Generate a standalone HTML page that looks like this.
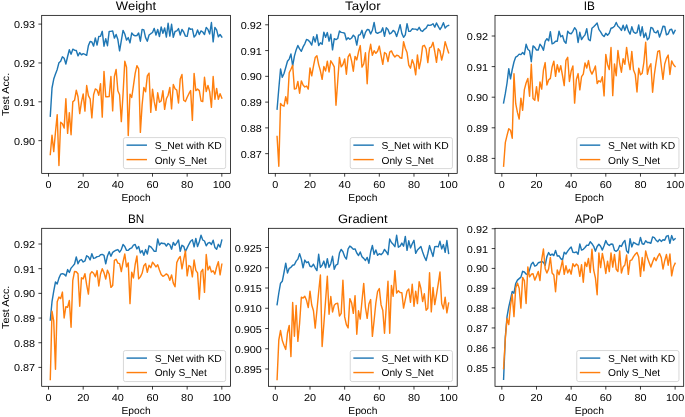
<!DOCTYPE html><html><head><meta charset="utf-8"><style>html,body{margin:0;padding:0;background:#fff;overflow:hidden}svg{display:block;will-change:transform;opacity:.999}text{font-family:"Liberation Sans",sans-serif;fill:#000;text-rendering:geometricPrecision}</style></head><body>
<svg width="685" height="417" viewBox="0 0 685 417">
<rect width="685" height="417" fill="#fff"/>
<clipPath id="c00"><rect x="41.7" y="15.35" width="188.7" height="158.0"/></clipPath>
<polyline clip-path="url(#c00)" points="50.28,116.20 52.01,88.00 53.74,79.10 55.48,74.00 57.21,69.40 58.94,62.80 60.67,61.20 62.41,56.80 64.14,58.30 65.87,64.00 67.61,56.50 69.34,49.80 71.07,54.20 72.80,49.20 74.54,50.20 76.27,50.50 78.00,55.80 79.73,52.70 81.47,54.80 83.20,53.60 84.93,54.30 86.67,55.30 88.40,45.60 90.13,41.50 91.86,42.00 93.60,46.10 95.33,37.90 97.06,45.10 98.80,36.40 100.53,36.20 102.26,31.30 103.99,46.20 105.73,38.70 107.46,45.70 109.19,31.40 110.92,31.40 112.66,30.90 114.39,38.10 116.12,34.50 117.86,39.60 119.59,50.90 121.32,40.70 123.05,30.40 124.79,34.00 126.52,40.10 128.25,37.60 129.99,42.90 131.72,33.00 133.45,35.00 135.18,35.80 136.92,35.50 138.65,33.00 140.38,41.20 142.11,29.40 143.85,29.90 145.58,37.60 147.31,41.20 149.05,35.00 150.78,33.70 152.51,32.50 154.24,28.40 155.98,35.00 157.71,29.40 159.44,36.60 161.18,26.90 162.91,33.30 164.64,27.90 166.37,37.10 168.11,23.30 169.84,36.10 171.57,24.30 173.30,37.30 175.04,31.50 176.77,30.90 178.50,28.60 180.24,35.00 181.97,29.40 183.70,32.00 185.43,36.10 187.17,36.40 188.90,27.90 190.63,29.40 192.37,28.90 194.10,37.10 195.83,35.00 197.56,29.90 199.30,34.50 201.03,30.90 202.76,32.00 204.49,34.50 206.23,27.40 207.96,29.40 209.69,34.00 211.43,22.50 213.16,41.90 214.89,27.40 216.62,29.90 218.36,36.80 220.09,34.50 221.82,37.10" fill="none" stroke="#1f77b4" stroke-width="1.43" stroke-linejoin="round" stroke-linecap="square"/>
<polyline clip-path="url(#c00)" points="50.28,154.50 52.01,135.10 53.74,151.60 55.48,132.00 57.21,114.60 58.94,165.50 60.67,122.20 62.41,123.80 64.14,128.10 65.87,98.80 67.61,133.40 69.34,112.60 71.07,134.80 72.80,101.90 74.54,100.30 76.27,90.30 78.00,96.80 79.73,113.60 81.47,101.90 83.20,94.00 84.93,111.10 86.67,85.50 88.40,95.70 90.13,98.80 91.86,117.90 93.60,94.70 95.33,88.90 97.06,90.00 98.80,95.20 100.53,83.60 102.26,117.10 103.99,71.40 105.73,96.80 107.46,96.80 109.19,96.60 110.92,76.50 112.66,110.90 114.39,76.50 116.12,69.50 117.86,90.80 119.59,94.70 121.32,121.60 123.05,94.00 124.79,61.30 126.52,67.30 128.25,135.50 129.99,94.20 131.72,97.50 133.45,85.70 135.18,73.40 136.92,65.70 138.65,68.80 140.38,132.40 142.11,105.00 143.85,87.50 145.58,91.80 147.31,75.90 149.05,73.20 150.78,112.40 152.51,89.20 154.24,101.70 155.98,110.40 157.71,92.80 159.44,102.20 161.18,100.90 162.91,90.70 164.64,109.40 166.37,98.80 168.11,95.20 169.84,87.50 171.57,108.90 173.30,84.50 175.04,88.80 176.77,90.10 178.50,103.00 180.24,78.90 181.97,74.50 183.70,100.20 185.43,101.50 187.17,97.30 188.90,93.70 190.63,90.60 192.37,120.40 194.10,73.40 195.83,90.60 197.56,89.10 199.30,90.60 201.03,101.00 202.76,101.50 204.49,77.30 206.23,91.60 207.96,85.50 209.69,91.60 211.43,107.30 213.16,76.50 214.89,99.30 216.62,88.40 218.36,99.30 220.09,93.70 221.82,98.00" fill="none" stroke="#ff7f0e" stroke-width="1.43" stroke-linejoin="round" stroke-linecap="square"/>
<path d="M48.54 173.35v3.3M83.20 173.35v3.3M117.86 173.35v3.3M152.51 173.35v3.3M187.17 173.35v3.3M221.82 173.35v3.3M41.70 24.10h-3.3M41.70 62.95h-3.3M41.70 101.80h-3.3M41.70 140.65h-3.3" stroke="#000" stroke-width="0.76" fill="none"/>
<text x="45.52" y="187.85" font-size="10.07" textLength="6.04" lengthAdjust="spacingAndGlyphs">0</text>
<text x="77.16" y="187.85" font-size="10.07" textLength="12.08" lengthAdjust="spacingAndGlyphs">20</text>
<text x="111.81" y="187.85" font-size="10.07" textLength="12.08" lengthAdjust="spacingAndGlyphs">40</text>
<text x="146.47" y="187.85" font-size="10.07" textLength="12.08" lengthAdjust="spacingAndGlyphs">60</text>
<text x="181.13" y="187.85" font-size="10.07" textLength="12.08" lengthAdjust="spacingAndGlyphs">80</text>
<text x="212.76" y="187.85" font-size="10.07" textLength="18.13" lengthAdjust="spacingAndGlyphs">100</text>
<text x="13.95" y="28.15" font-size="10.07" textLength="21.15" lengthAdjust="spacingAndGlyphs">0.93</text>
<text x="13.95" y="67.00" font-size="10.07" textLength="21.15" lengthAdjust="spacingAndGlyphs">0.92</text>
<text x="13.95" y="105.85" font-size="10.07" textLength="21.15" lengthAdjust="spacingAndGlyphs">0.91</text>
<text x="13.95" y="144.70" font-size="10.07" textLength="21.15" lengthAdjust="spacingAndGlyphs">0.90</text>
<rect x="41.7" y="15.35" width="188.7" height="158.0" fill="none" stroke="#000" stroke-width="0.76"/>
<text x="115.85" y="9.70" font-size="12.31" textLength="40.39" lengthAdjust="spacingAndGlyphs">Weight</text>
<text x="121.50" y="200.65" font-size="10.07" textLength="29.10" lengthAdjust="spacingAndGlyphs">Epoch</text>
<text x="8.70" y="116.01" font-size="10.07" textLength="43.31" lengthAdjust="spacingAndGlyphs" transform="rotate(-90 8.7 116.01)">Test Acc.</text>
<rect x="123.45" y="137.60" width="102.20" height="31.00" rx="1.9" ry="1.9" fill="#fff" fill-opacity="0.8" stroke="#ccc" stroke-opacity="0.8" stroke-width="0.95"/>
<path d="M127.25 145.15h19" stroke="#1f77b4" stroke-width="1.43" stroke-linecap="square"/>
<path d="M127.25 159.60h19" stroke="#ff7f0e" stroke-width="1.43" stroke-linecap="square"/>
<text x="154.65" y="149.00" font-size="10.07" textLength="67.20" lengthAdjust="spacingAndGlyphs">S_Net with KD</text>
<text x="154.65" y="163.50" font-size="10.07" textLength="52.24" lengthAdjust="spacingAndGlyphs">Only S_Net</text>
<clipPath id="c10"><rect x="268.5" y="15.35" width="188.7" height="158.0"/></clipPath>
<polyline clip-path="url(#c10)" points="277.08,109.20 278.81,88.50 280.54,69.00 282.28,77.30 284.01,73.50 285.74,67.50 287.47,61.30 289.21,59.10 290.94,54.00 292.67,65.80 294.41,56.10 296.14,49.90 297.87,45.50 299.60,48.90 301.34,51.30 303.07,46.90 304.80,43.80 306.53,39.40 308.27,40.20 310.00,42.10 311.73,45.10 313.47,36.60 315.20,42.10 316.93,34.60 318.66,45.50 320.40,42.80 322.13,44.30 323.86,32.20 325.60,37.20 327.33,32.60 329.06,41.20 330.79,34.30 332.53,49.80 334.26,38.70 335.99,39.60 337.72,38.50 339.46,31.10 341.19,32.40 342.92,32.60 344.66,33.20 346.39,39.70 348.12,37.70 349.85,39.30 351.59,38.00 353.32,35.20 355.05,37.00 356.79,45.10 358.52,35.20 360.25,34.60 361.98,30.30 363.72,38.00 365.45,32.40 367.18,29.50 368.91,29.80 370.65,33.90 372.38,30.30 374.11,22.40 375.85,32.40 377.58,33.40 379.31,32.40 381.04,31.90 382.78,27.80 384.51,36.30 386.24,27.80 387.98,29.50 389.71,33.90 391.44,32.90 393.17,30.40 394.91,31.90 396.64,36.50 398.37,30.90 400.10,24.70 401.84,33.40 403.57,37.30 405.30,34.90 407.04,23.70 408.77,31.40 410.50,31.20 412.23,28.80 413.97,29.10 415.70,29.10 417.43,30.10 419.17,27.30 420.90,30.60 422.63,31.40 424.36,29.30 426.10,28.10 427.83,25.00 429.56,25.40 431.29,25.00 433.03,23.70 434.76,27.10 436.49,23.00 438.23,26.30 439.96,29.50 441.69,26.80 443.42,22.70 445.16,28.10 446.89,26.10 448.62,25.40" fill="none" stroke="#1f77b4" stroke-width="1.43" stroke-linejoin="round" stroke-linecap="square"/>
<polyline clip-path="url(#c10)" points="277.08,136.50 278.81,166.20 280.54,103.50 282.28,105.40 284.01,106.20 285.74,96.70 287.47,103.80 289.21,72.70 290.94,69.20 292.67,65.30 294.41,89.10 296.14,88.60 297.87,81.40 299.60,93.20 301.34,80.90 303.07,85.00 304.80,87.00 306.53,86.00 308.27,89.10 310.00,67.90 311.73,75.80 313.47,66.10 315.20,57.60 316.93,55.80 318.66,64.60 320.40,70.80 322.13,79.40 323.86,66.50 325.60,71.00 327.33,61.20 329.06,72.00 330.79,60.80 332.53,63.60 334.26,66.90 335.99,105.30 337.72,81.30 339.46,57.40 341.19,66.80 342.92,64.50 344.66,58.90 346.39,74.20 348.12,56.90 349.85,53.80 351.59,60.90 353.32,71.20 355.05,56.40 356.79,59.90 358.52,51.80 360.25,45.60 361.98,67.10 363.72,64.00 365.45,52.80 367.18,83.80 368.91,53.30 370.65,44.30 372.38,55.30 374.11,50.70 375.85,53.30 377.58,51.20 379.31,46.10 381.04,55.30 382.78,64.30 384.51,52.50 386.24,53.80 387.98,61.50 389.71,52.10 391.44,50.90 393.17,54.80 394.91,57.00 396.64,55.30 398.37,55.60 400.10,57.70 401.84,58.30 403.57,41.60 405.30,48.30 407.04,52.50 408.77,65.10 410.50,68.20 412.23,59.70 413.97,64.60 415.70,74.80 417.43,54.90 419.17,68.70 420.90,60.00 422.63,46.20 424.36,45.30 426.10,49.00 427.83,62.60 429.56,47.80 431.29,46.90 433.03,42.30 434.76,51.50 436.49,62.40 438.23,48.80 439.96,51.00 441.69,60.00 443.42,52.90 445.16,41.60 446.89,47.40 448.62,52.90" fill="none" stroke="#ff7f0e" stroke-width="1.43" stroke-linejoin="round" stroke-linecap="square"/>
<path d="M275.34 173.35v3.3M310.00 173.35v3.3M344.66 173.35v3.3M379.31 173.35v3.3M413.97 173.35v3.3M448.62 173.35v3.3M268.50 24.80h-3.3M268.50 50.57h-3.3M268.50 76.34h-3.3M268.50 102.11h-3.3M268.50 127.88h-3.3M268.50 153.65h-3.3" stroke="#000" stroke-width="0.76" fill="none"/>
<text x="272.32" y="187.85" font-size="10.07" textLength="6.04" lengthAdjust="spacingAndGlyphs">0</text>
<text x="303.96" y="187.85" font-size="10.07" textLength="12.08" lengthAdjust="spacingAndGlyphs">20</text>
<text x="338.61" y="187.85" font-size="10.07" textLength="12.08" lengthAdjust="spacingAndGlyphs">40</text>
<text x="373.27" y="187.85" font-size="10.07" textLength="12.08" lengthAdjust="spacingAndGlyphs">60</text>
<text x="407.93" y="187.85" font-size="10.07" textLength="12.08" lengthAdjust="spacingAndGlyphs">80</text>
<text x="439.56" y="187.85" font-size="10.07" textLength="18.13" lengthAdjust="spacingAndGlyphs">100</text>
<text x="240.75" y="28.85" font-size="10.07" textLength="21.15" lengthAdjust="spacingAndGlyphs">0.92</text>
<text x="240.75" y="54.62" font-size="10.07" textLength="21.15" lengthAdjust="spacingAndGlyphs">0.91</text>
<text x="240.75" y="80.39" font-size="10.07" textLength="21.15" lengthAdjust="spacingAndGlyphs">0.90</text>
<text x="240.75" y="106.16" font-size="10.07" textLength="21.15" lengthAdjust="spacingAndGlyphs">0.89</text>
<text x="240.75" y="131.93" font-size="10.07" textLength="21.15" lengthAdjust="spacingAndGlyphs">0.88</text>
<text x="240.75" y="157.70" font-size="10.07" textLength="21.15" lengthAdjust="spacingAndGlyphs">0.87</text>
<rect x="268.5" y="15.35" width="188.7" height="158.0" fill="none" stroke="#000" stroke-width="0.76"/>
<text x="345.08" y="9.70" font-size="12.31" textLength="35.53" lengthAdjust="spacingAndGlyphs">Taylor</text>
<text x="348.30" y="200.65" font-size="10.07" textLength="29.10" lengthAdjust="spacingAndGlyphs">Epoch</text>
<rect x="350.25" y="137.60" width="102.20" height="31.00" rx="1.9" ry="1.9" fill="#fff" fill-opacity="0.8" stroke="#ccc" stroke-opacity="0.8" stroke-width="0.95"/>
<path d="M354.05 145.15h19" stroke="#1f77b4" stroke-width="1.43" stroke-linecap="square"/>
<path d="M354.05 159.60h19" stroke="#ff7f0e" stroke-width="1.43" stroke-linecap="square"/>
<text x="381.45" y="149.00" font-size="10.07" textLength="67.20" lengthAdjust="spacingAndGlyphs">S_Net with KD</text>
<text x="381.45" y="163.50" font-size="10.07" textLength="52.24" lengthAdjust="spacingAndGlyphs">Only S_Net</text>
<clipPath id="c20"><rect x="495.0" y="15.35" width="188.7" height="158.0"/></clipPath>
<polyline clip-path="url(#c20)" points="503.58,102.90 505.31,93.70 507.04,83.00 508.78,68.60 510.51,78.90 512.24,69.50 513.97,62.00 515.71,57.10 517.44,56.10 519.17,54.10 520.91,54.60 522.64,52.50 524.37,54.40 526.10,44.30 527.84,49.30 529.57,50.70 531.30,61.70 533.03,45.90 534.77,47.40 536.50,50.00 538.23,50.00 539.97,44.30 541.70,46.40 543.43,50.30 545.16,41.30 546.90,38.70 548.63,40.80 550.36,31.60 552.10,43.80 553.83,43.10 555.56,41.20 557.29,41.20 559.03,31.20 560.76,36.80 562.49,35.50 564.22,41.30 565.96,43.30 567.69,31.30 569.42,33.30 571.16,33.80 572.89,31.30 574.62,27.70 576.35,30.10 578.09,42.50 579.82,32.30 581.55,39.50 583.29,36.90 585.02,34.90 586.75,28.70 588.48,39.50 590.22,40.70 591.95,28.20 593.68,26.70 595.41,24.90 597.15,23.10 598.88,29.40 600.61,31.80 602.35,34.90 604.08,36.60 605.81,33.30 607.54,35.20 609.28,33.30 611.01,28.20 612.74,27.70 614.48,26.20 616.21,22.50 617.94,26.30 619.67,27.80 621.41,30.40 623.14,25.30 624.87,30.40 626.60,25.00 628.34,30.90 630.07,34.20 631.80,26.80 633.54,31.90 635.27,33.20 637.00,32.60 638.73,25.00 640.47,35.70 642.20,26.80 643.93,37.50 645.67,32.90 647.40,39.80 649.13,37.70 650.86,27.50 652.60,28.10 654.33,32.20 656.06,32.90 657.79,30.60 659.53,37.00 661.26,32.20 662.99,26.30 664.73,26.50 666.46,34.90 668.19,33.90 669.92,29.80 671.66,29.30 673.39,33.90 675.12,30.40" fill="none" stroke="#1f77b4" stroke-width="1.43" stroke-linejoin="round" stroke-linecap="square"/>
<polyline clip-path="url(#c20)" points="503.58,166.20 505.31,142.70 507.04,135.40 508.78,128.70 510.51,130.20 512.24,138.20 513.97,73.80 515.71,103.70 517.44,112.40 519.17,119.00 520.91,98.10 522.64,110.30 524.37,89.60 526.10,83.00 527.84,78.40 529.57,96.30 531.30,64.30 533.03,98.50 534.77,100.30 536.50,86.60 538.23,101.00 539.97,82.00 541.70,89.10 543.43,70.20 545.16,62.60 546.90,85.00 548.63,79.90 550.36,78.40 552.10,66.90 553.83,61.20 555.56,76.30 557.29,64.70 559.03,72.00 560.76,65.80 562.49,75.50 564.22,85.60 565.96,60.30 567.69,57.30 569.42,81.50 571.16,71.10 572.89,66.00 574.62,103.10 576.35,79.50 578.09,73.60 579.82,89.80 581.55,76.70 583.29,74.10 585.02,62.90 586.75,68.00 588.48,60.60 590.22,70.40 591.95,74.10 593.68,70.40 595.41,66.00 597.15,83.50 598.88,80.70 600.61,82.00 602.35,76.70 604.08,95.90 605.81,54.40 607.54,64.40 609.28,69.50 611.01,47.50 612.74,95.60 614.48,63.90 616.21,75.70 617.94,50.50 619.67,63.50 621.41,72.20 623.14,58.70 624.87,64.30 626.60,47.40 628.34,60.40 630.07,69.60 631.80,51.40 633.54,70.10 635.27,74.40 637.00,92.00 638.73,68.10 640.47,74.70 642.20,73.20 643.93,62.00 645.67,42.30 647.40,74.20 649.13,67.40 650.86,63.70 652.60,92.30 654.33,74.70 656.06,62.50 657.79,51.40 659.53,50.70 661.26,65.50 662.99,79.30 664.73,64.00 666.46,58.40 668.19,55.10 669.92,74.50 671.66,60.90 673.39,64.50 675.12,66.60" fill="none" stroke="#ff7f0e" stroke-width="1.43" stroke-linejoin="round" stroke-linecap="square"/>
<path d="M501.84 173.35v3.3M536.50 173.35v3.3M571.16 173.35v3.3M605.81 173.35v3.3M640.47 173.35v3.3M675.12 173.35v3.3M495.00 36.00h-3.3M495.00 66.60h-3.3M495.00 97.20h-3.3M495.00 127.80h-3.3M495.00 158.40h-3.3" stroke="#000" stroke-width="0.76" fill="none"/>
<text x="498.82" y="187.85" font-size="10.07" textLength="6.04" lengthAdjust="spacingAndGlyphs">0</text>
<text x="530.46" y="187.85" font-size="10.07" textLength="12.08" lengthAdjust="spacingAndGlyphs">20</text>
<text x="565.11" y="187.85" font-size="10.07" textLength="12.08" lengthAdjust="spacingAndGlyphs">40</text>
<text x="599.77" y="187.85" font-size="10.07" textLength="12.08" lengthAdjust="spacingAndGlyphs">60</text>
<text x="634.43" y="187.85" font-size="10.07" textLength="12.08" lengthAdjust="spacingAndGlyphs">80</text>
<text x="666.06" y="187.85" font-size="10.07" textLength="18.13" lengthAdjust="spacingAndGlyphs">100</text>
<text x="466.85" y="40.05" font-size="10.07" textLength="21.15" lengthAdjust="spacingAndGlyphs">0.92</text>
<text x="466.85" y="70.65" font-size="10.07" textLength="21.15" lengthAdjust="spacingAndGlyphs">0.91</text>
<text x="466.85" y="101.25" font-size="10.07" textLength="21.15" lengthAdjust="spacingAndGlyphs">0.90</text>
<text x="466.85" y="131.85" font-size="10.07" textLength="21.15" lengthAdjust="spacingAndGlyphs">0.89</text>
<text x="466.85" y="162.45" font-size="10.07" textLength="21.15" lengthAdjust="spacingAndGlyphs">0.88</text>
<rect x="495.0" y="15.35" width="188.7" height="158.0" fill="none" stroke="#000" stroke-width="0.76"/>
<text x="583.76" y="9.70" font-size="12.31" textLength="11.18" lengthAdjust="spacingAndGlyphs">IB</text>
<text x="574.80" y="200.65" font-size="10.07" textLength="29.10" lengthAdjust="spacingAndGlyphs">Epoch</text>
<rect x="576.75" y="137.60" width="102.20" height="31.00" rx="1.9" ry="1.9" fill="#fff" fill-opacity="0.8" stroke="#ccc" stroke-opacity="0.8" stroke-width="0.95"/>
<path d="M580.55 145.15h19" stroke="#1f77b4" stroke-width="1.43" stroke-linecap="square"/>
<path d="M580.55 159.60h19" stroke="#ff7f0e" stroke-width="1.43" stroke-linecap="square"/>
<text x="607.95" y="149.00" font-size="10.07" textLength="67.20" lengthAdjust="spacingAndGlyphs">S_Net with KD</text>
<text x="607.95" y="163.50" font-size="10.07" textLength="52.24" lengthAdjust="spacingAndGlyphs">Only S_Net</text>
<clipPath id="c01"><rect x="41.7" y="228.3" width="188.7" height="158.0"/></clipPath>
<polyline clip-path="url(#c01)" points="50.28,320.00 52.01,301.70 53.74,291.10 55.48,282.00 57.21,283.90 58.94,278.10 60.67,274.20 62.41,273.60 64.14,274.20 65.87,276.00 67.61,269.60 69.34,272.50 71.07,268.10 72.80,266.10 74.54,264.00 76.27,256.90 78.00,263.70 79.73,260.40 81.47,259.60 83.20,262.00 84.93,260.90 86.67,255.80 88.40,256.90 90.13,259.90 91.86,253.80 93.60,258.40 95.33,257.90 97.06,256.60 98.80,256.40 100.53,254.80 102.26,254.40 103.99,255.30 105.73,263.80 107.46,255.90 109.19,251.70 110.92,256.30 112.66,252.40 114.39,251.20 116.12,250.20 117.86,249.60 119.59,252.20 121.32,249.60 123.05,244.50 124.79,246.50 126.52,250.40 128.25,250.20 129.99,248.60 131.72,247.80 133.45,245.10 135.18,244.50 136.92,248.90 138.65,246.50 140.38,252.90 142.11,250.60 143.85,255.30 145.58,249.60 147.31,254.00 149.05,245.80 150.78,246.80 152.51,248.90 154.24,251.20 155.98,251.40 157.71,238.90 159.44,245.10 161.18,243.00 162.91,243.50 164.64,243.50 166.37,246.10 168.11,243.50 169.84,244.80 171.57,249.20 173.30,242.50 175.04,245.30 176.77,242.80 178.50,240.00 180.24,251.30 181.97,245.30 183.70,246.30 185.43,251.50 187.17,247.90 188.90,244.30 190.63,241.20 192.37,239.70 194.10,246.90 195.83,238.40 197.56,246.60 199.30,241.80 201.03,235.30 202.76,240.00 204.49,241.00 206.23,245.80 207.96,243.10 209.69,242.50 211.43,244.50 213.16,240.20 214.89,247.40 216.62,249.20 218.36,244.30 220.09,247.20 221.82,240.00" fill="none" stroke="#1f77b4" stroke-width="1.43" stroke-linejoin="round" stroke-linecap="square"/>
<polyline clip-path="url(#c01)" points="50.28,379.50 52.01,311.30 53.74,321.00 55.48,369.30 57.21,301.80 58.94,297.10 60.67,298.60 62.41,292.10 64.14,318.00 65.87,306.70 67.61,307.20 69.34,300.50 71.07,327.20 72.80,280.30 74.54,271.50 76.27,271.70 78.00,273.70 79.73,306.20 81.47,277.80 83.20,278.80 84.93,273.70 86.67,284.90 88.40,294.10 90.13,274.20 91.86,271.70 93.60,273.20 95.33,276.80 97.06,270.60 98.80,286.00 100.53,274.00 102.26,268.70 103.99,272.60 105.73,279.10 107.46,270.20 109.19,274.30 110.92,287.40 112.66,285.60 114.39,260.40 116.12,259.30 117.86,263.10 119.59,263.60 121.32,271.60 123.05,262.00 124.79,254.00 126.52,266.90 128.25,262.90 129.99,303.60 131.72,272.30 133.45,277.90 135.18,264.50 136.92,256.00 138.65,278.90 140.38,276.90 142.11,273.30 143.85,265.70 145.58,263.60 147.31,272.40 149.05,265.30 150.78,267.70 152.51,262.20 154.24,264.30 155.98,266.90 157.71,264.80 159.44,270.00 161.18,274.50 162.91,276.30 164.64,275.30 166.37,273.90 168.11,275.40 169.84,280.30 171.57,274.90 173.30,283.10 175.04,286.80 176.77,262.60 178.50,258.80 180.24,256.50 181.97,268.80 183.70,259.60 185.43,250.90 187.17,275.90 188.90,265.50 190.63,266.50 192.37,276.90 194.10,260.00 195.83,270.30 197.56,272.90 199.30,299.20 201.03,271.80 202.76,269.30 204.49,292.40 206.23,254.50 207.96,270.00 209.69,266.20 211.43,272.00 213.16,270.80 214.89,274.20 216.62,267.00 218.36,261.80 220.09,274.90 221.82,264.20" fill="none" stroke="#ff7f0e" stroke-width="1.43" stroke-linejoin="round" stroke-linecap="square"/>
<path d="M48.54 386.30v3.3M83.20 386.30v3.3M117.86 386.30v3.3M152.51 386.30v3.3M187.17 386.30v3.3M221.82 386.30v3.3M41.70 244.00h-3.3M41.70 268.68h-3.3M41.70 293.36h-3.3M41.70 318.04h-3.3M41.70 342.72h-3.3M41.70 367.40h-3.3" stroke="#000" stroke-width="0.76" fill="none"/>
<text x="45.52" y="400.80" font-size="10.07" textLength="6.04" lengthAdjust="spacingAndGlyphs">0</text>
<text x="77.16" y="400.80" font-size="10.07" textLength="12.08" lengthAdjust="spacingAndGlyphs">20</text>
<text x="111.81" y="400.80" font-size="10.07" textLength="12.08" lengthAdjust="spacingAndGlyphs">40</text>
<text x="146.47" y="400.80" font-size="10.07" textLength="12.08" lengthAdjust="spacingAndGlyphs">60</text>
<text x="181.13" y="400.80" font-size="10.07" textLength="12.08" lengthAdjust="spacingAndGlyphs">80</text>
<text x="212.76" y="400.80" font-size="10.07" textLength="18.13" lengthAdjust="spacingAndGlyphs">100</text>
<text x="13.95" y="248.05" font-size="10.07" textLength="21.15" lengthAdjust="spacingAndGlyphs">0.92</text>
<text x="13.95" y="272.73" font-size="10.07" textLength="21.15" lengthAdjust="spacingAndGlyphs">0.91</text>
<text x="13.95" y="297.41" font-size="10.07" textLength="21.15" lengthAdjust="spacingAndGlyphs">0.90</text>
<text x="13.95" y="322.09" font-size="10.07" textLength="21.15" lengthAdjust="spacingAndGlyphs">0.89</text>
<text x="13.95" y="346.77" font-size="10.07" textLength="21.15" lengthAdjust="spacingAndGlyphs">0.88</text>
<text x="13.95" y="371.45" font-size="10.07" textLength="21.15" lengthAdjust="spacingAndGlyphs">0.87</text>
<rect x="41.7" y="228.3" width="188.7" height="158.0" fill="none" stroke="#000" stroke-width="0.76"/>
<text x="127.88" y="222.65" font-size="12.31" textLength="16.35" lengthAdjust="spacingAndGlyphs">BN</text>
<text x="121.50" y="413.60" font-size="10.07" textLength="29.10" lengthAdjust="spacingAndGlyphs">Epoch</text>
<text x="8.70" y="328.96" font-size="10.07" textLength="43.31" lengthAdjust="spacingAndGlyphs" transform="rotate(-90 8.7 328.96)">Test Acc.</text>
<rect x="123.45" y="350.55" width="102.20" height="31.00" rx="1.9" ry="1.9" fill="#fff" fill-opacity="0.8" stroke="#ccc" stroke-opacity="0.8" stroke-width="0.95"/>
<path d="M127.25 358.10h19" stroke="#1f77b4" stroke-width="1.43" stroke-linecap="square"/>
<path d="M127.25 372.55h19" stroke="#ff7f0e" stroke-width="1.43" stroke-linecap="square"/>
<text x="154.65" y="361.95" font-size="10.07" textLength="67.20" lengthAdjust="spacingAndGlyphs">S_Net with KD</text>
<text x="154.65" y="376.45" font-size="10.07" textLength="52.24" lengthAdjust="spacingAndGlyphs">Only S_Net</text>
<clipPath id="c11"><rect x="268.5" y="228.3" width="188.7" height="158.0"/></clipPath>
<polyline clip-path="url(#c11)" points="277.08,304.60 278.81,293.00 280.54,283.20 282.28,281.30 284.01,272.50 285.74,263.20 287.47,273.00 289.21,268.30 290.94,267.30 292.67,265.20 294.41,264.70 296.14,261.10 297.87,259.10 299.60,253.70 301.34,259.10 303.07,267.80 304.80,260.10 306.53,262.70 308.27,261.80 310.00,266.20 311.73,266.70 313.47,264.20 315.20,267.80 316.93,270.60 318.66,254.30 320.40,267.30 322.13,265.20 323.86,261.10 325.60,267.80 327.33,258.60 329.06,267.30 330.79,263.70 332.53,256.30 334.26,269.30 335.99,265.10 337.72,264.20 339.46,253.00 341.19,249.40 342.92,251.70 344.66,256.60 346.39,259.10 348.12,248.90 349.85,246.10 351.59,247.40 353.32,249.20 355.05,248.90 356.79,253.00 358.52,255.50 360.25,252.00 361.98,256.80 363.72,258.40 365.45,260.50 367.18,257.40 368.91,263.20 370.65,252.00 372.38,245.50 374.11,254.30 375.85,249.90 377.58,255.30 379.31,253.70 381.04,254.70 382.78,253.00 384.51,249.40 386.24,251.70 387.98,254.70 389.71,239.00 391.44,242.50 393.17,244.30 394.91,246.70 396.64,235.30 398.37,247.20 400.10,246.20 401.84,243.10 403.57,246.20 405.30,236.40 407.04,250.30 408.77,240.80 410.50,247.90 412.23,243.80 413.97,240.30 415.70,253.30 417.43,250.00 419.17,248.20 420.90,246.40 422.63,252.00 424.36,256.80 426.10,260.50 427.83,253.50 429.56,245.60 431.29,251.30 433.03,256.40 434.76,246.60 436.49,246.40 438.23,246.90 439.96,241.30 441.69,248.90 443.42,244.60 445.16,252.30 446.89,240.50 448.62,253.50" fill="none" stroke="#1f77b4" stroke-width="1.43" stroke-linejoin="round" stroke-linecap="square"/>
<polyline clip-path="url(#c11)" points="277.08,379.60 278.81,340.00 280.54,330.50 282.28,340.50 284.01,345.30 285.74,349.40 287.47,333.00 289.21,325.40 290.94,356.60 292.67,302.50 294.41,336.20 296.14,305.40 297.87,341.40 299.60,323.50 301.34,297.20 303.07,298.10 304.80,296.20 306.53,300.30 308.27,307.50 310.00,291.10 311.73,305.00 313.47,310.80 315.20,328.10 316.93,310.30 318.66,292.00 320.40,275.00 322.13,346.50 323.86,324.00 325.60,300.30 327.33,276.20 329.06,314.20 330.79,296.50 332.53,312.00 334.26,305.30 335.99,303.60 337.72,303.30 339.46,316.00 341.19,313.40 342.92,280.30 344.66,316.90 346.39,324.60 348.12,327.90 349.85,298.60 351.59,302.70 353.32,313.40 355.05,295.60 356.79,334.30 358.52,310.80 360.25,319.00 361.98,301.00 363.72,283.40 365.45,307.50 367.18,318.30 368.91,304.00 370.65,299.60 372.38,336.40 374.11,320.50 375.85,303.00 377.58,291.50 379.31,288.50 381.04,304.70 382.78,310.30 384.51,333.30 386.24,307.00 387.98,281.30 389.71,333.30 391.44,285.40 393.17,296.30 394.91,270.60 396.64,293.10 398.37,290.80 400.10,292.60 401.84,292.60 403.57,308.10 405.30,299.70 407.04,291.10 408.77,289.00 410.50,302.30 412.23,284.20 413.97,306.30 415.70,291.10 417.43,303.60 419.17,281.60 420.90,288.50 422.63,301.50 424.36,293.70 426.10,310.20 427.83,308.20 429.56,272.70 431.29,311.90 433.03,287.50 434.76,304.60 436.49,294.70 438.23,283.90 439.96,272.00 441.69,303.50 443.42,308.90 445.16,297.10 446.89,312.90 448.62,303.00" fill="none" stroke="#ff7f0e" stroke-width="1.43" stroke-linejoin="round" stroke-linecap="square"/>
<path d="M275.34 386.30v3.3M310.00 386.30v3.3M344.66 386.30v3.3M379.31 386.30v3.3M413.97 386.30v3.3M448.62 386.30v3.3M268.50 247.50h-3.3M268.50 267.75h-3.3M268.50 288.00h-3.3M268.50 308.25h-3.3M268.50 328.50h-3.3M268.50 348.75h-3.3M268.50 369.00h-3.3" stroke="#000" stroke-width="0.76" fill="none"/>
<text x="272.32" y="400.80" font-size="10.07" textLength="6.04" lengthAdjust="spacingAndGlyphs">0</text>
<text x="303.96" y="400.80" font-size="10.07" textLength="12.08" lengthAdjust="spacingAndGlyphs">20</text>
<text x="338.61" y="400.80" font-size="10.07" textLength="12.08" lengthAdjust="spacingAndGlyphs">40</text>
<text x="373.27" y="400.80" font-size="10.07" textLength="12.08" lengthAdjust="spacingAndGlyphs">60</text>
<text x="407.93" y="400.80" font-size="10.07" textLength="12.08" lengthAdjust="spacingAndGlyphs">80</text>
<text x="439.56" y="400.80" font-size="10.07" textLength="18.13" lengthAdjust="spacingAndGlyphs">100</text>
<text x="234.71" y="251.55" font-size="10.07" textLength="27.19" lengthAdjust="spacingAndGlyphs">0.925</text>
<text x="234.71" y="271.80" font-size="10.07" textLength="27.19" lengthAdjust="spacingAndGlyphs">0.920</text>
<text x="234.71" y="292.05" font-size="10.07" textLength="27.19" lengthAdjust="spacingAndGlyphs">0.915</text>
<text x="234.71" y="312.30" font-size="10.07" textLength="27.19" lengthAdjust="spacingAndGlyphs">0.910</text>
<text x="234.71" y="332.55" font-size="10.07" textLength="27.19" lengthAdjust="spacingAndGlyphs">0.905</text>
<text x="234.71" y="352.80" font-size="10.07" textLength="27.19" lengthAdjust="spacingAndGlyphs">0.900</text>
<text x="234.71" y="373.05" font-size="10.07" textLength="27.19" lengthAdjust="spacingAndGlyphs">0.895</text>
<rect x="268.5" y="228.3" width="188.7" height="158.0" fill="none" stroke="#000" stroke-width="0.76"/>
<text x="338.04" y="222.65" font-size="12.31" textLength="49.62" lengthAdjust="spacingAndGlyphs">Gradient</text>
<text x="348.30" y="413.60" font-size="10.07" textLength="29.10" lengthAdjust="spacingAndGlyphs">Epoch</text>
<rect x="350.25" y="350.55" width="102.20" height="31.00" rx="1.9" ry="1.9" fill="#fff" fill-opacity="0.8" stroke="#ccc" stroke-opacity="0.8" stroke-width="0.95"/>
<path d="M354.05 358.10h19" stroke="#1f77b4" stroke-width="1.43" stroke-linecap="square"/>
<path d="M354.05 372.55h19" stroke="#ff7f0e" stroke-width="1.43" stroke-linecap="square"/>
<text x="381.45" y="361.95" font-size="10.07" textLength="67.20" lengthAdjust="spacingAndGlyphs">S_Net with KD</text>
<text x="381.45" y="376.45" font-size="10.07" textLength="52.24" lengthAdjust="spacingAndGlyphs">Only S_Net</text>
<clipPath id="c21"><rect x="495.0" y="228.3" width="188.7" height="158.0"/></clipPath>
<polyline clip-path="url(#c21)" points="503.58,379.30 505.31,337.00 507.04,316.60 508.78,307.00 510.51,299.40 512.24,291.50 513.97,293.20 515.71,283.50 517.44,280.10 519.17,278.60 520.91,277.10 522.64,271.30 524.37,272.00 526.10,274.00 527.84,274.50 529.57,269.90 531.30,264.30 533.03,262.30 534.77,266.10 536.50,265.30 538.23,262.80 539.97,262.30 541.70,261.40 543.43,262.30 545.16,265.30 546.90,256.60 548.63,252.60 550.36,255.30 552.10,254.10 553.83,255.60 555.56,250.40 557.29,256.10 559.03,255.80 560.76,258.60 562.49,260.00 564.22,252.20 565.96,253.90 567.69,251.20 569.42,248.80 571.16,247.10 572.89,252.20 574.62,252.60 576.35,251.90 578.09,254.20 579.82,244.00 581.55,250.10 583.29,249.30 585.02,247.50 586.75,245.20 588.48,245.40 590.22,241.70 591.95,243.70 593.68,246.30 595.41,251.20 597.15,246.50 598.88,244.20 600.61,246.30 602.35,250.10 604.08,245.80 605.81,240.60 607.54,244.20 609.28,245.40 611.01,244.00 612.74,244.20 614.48,250.40 616.21,251.30 617.94,249.90 619.67,245.50 621.41,246.40 623.14,242.60 624.87,240.40 626.60,250.90 628.34,253.00 630.07,238.70 631.80,246.90 633.54,242.30 635.27,243.30 637.00,244.50 638.73,244.80 640.47,237.40 642.20,243.80 643.93,244.30 645.67,240.70 647.40,242.50 649.13,242.50 650.86,243.30 652.60,236.90 654.33,237.70 656.06,240.20 657.79,241.80 659.53,239.40 661.26,241.40 662.99,239.70 664.73,240.20 666.46,236.10 668.19,235.60 669.92,243.30 671.66,235.60 673.39,240.20 675.12,238.70" fill="none" stroke="#1f77b4" stroke-width="1.43" stroke-linejoin="round" stroke-linecap="square"/>
<polyline clip-path="url(#c21)" points="503.58,368.60 505.31,339.00 507.04,318.50 508.78,324.50 510.51,305.60 512.24,294.50 513.97,316.60 515.71,288.10 517.44,283.10 519.17,288.20 520.91,308.10 522.64,277.40 524.37,280.70 526.10,303.50 527.84,266.90 529.57,276.80 531.30,274.30 533.03,273.70 534.77,280.10 536.50,276.10 538.23,271.50 539.97,280.50 541.70,259.70 543.43,249.00 545.16,268.40 546.90,273.00 548.63,268.90 550.36,257.40 552.10,273.00 553.83,275.00 555.56,291.70 557.29,269.90 559.03,274.70 560.76,268.20 562.49,260.40 564.22,274.30 565.96,265.80 567.69,272.90 569.42,269.30 571.16,274.20 572.89,263.70 574.62,266.60 576.35,264.00 578.09,265.80 579.82,276.30 581.55,264.60 583.29,282.20 585.02,262.30 586.75,266.50 588.48,258.50 590.22,272.50 591.95,249.30 593.68,270.00 595.41,277.80 597.15,294.70 598.88,252.90 600.61,267.60 602.35,253.40 604.08,261.60 605.81,273.50 607.54,261.10 609.28,271.60 611.01,252.90 612.74,267.10 614.48,254.40 616.21,269.20 617.94,271.50 619.67,250.90 621.41,273.00 623.14,266.90 624.87,265.00 626.60,255.00 628.34,274.40 630.07,260.60 631.80,259.80 633.54,256.60 635.27,254.30 637.00,252.50 638.73,257.10 640.47,276.40 642.20,257.50 643.93,270.80 645.67,250.90 647.40,257.60 649.13,262.50 650.86,267.10 652.60,262.00 654.33,257.60 656.06,260.70 657.79,256.60 659.53,253.50 661.26,257.60 662.99,269.00 664.73,260.70 666.46,254.50 668.19,265.20 669.92,254.00 671.66,275.90 673.39,267.00 675.12,263.30" fill="none" stroke="#ff7f0e" stroke-width="1.43" stroke-linejoin="round" stroke-linecap="square"/>
<path d="M501.84 386.30v3.3M536.50 386.30v3.3M571.16 386.30v3.3M605.81 386.30v3.3M640.47 386.30v3.3M675.12 386.30v3.3M495.00 228.70h-3.3M495.00 248.55h-3.3M495.00 268.40h-3.3M495.00 288.25h-3.3M495.00 308.10h-3.3M495.00 327.95h-3.3M495.00 347.80h-3.3M495.00 367.65h-3.3" stroke="#000" stroke-width="0.76" fill="none"/>
<text x="498.82" y="400.80" font-size="10.07" textLength="6.04" lengthAdjust="spacingAndGlyphs">0</text>
<text x="530.46" y="400.80" font-size="10.07" textLength="12.08" lengthAdjust="spacingAndGlyphs">20</text>
<text x="565.11" y="400.80" font-size="10.07" textLength="12.08" lengthAdjust="spacingAndGlyphs">40</text>
<text x="599.77" y="400.80" font-size="10.07" textLength="12.08" lengthAdjust="spacingAndGlyphs">60</text>
<text x="634.43" y="400.80" font-size="10.07" textLength="12.08" lengthAdjust="spacingAndGlyphs">80</text>
<text x="666.06" y="400.80" font-size="10.07" textLength="18.13" lengthAdjust="spacingAndGlyphs">100</text>
<text x="466.85" y="232.75" font-size="10.07" textLength="21.15" lengthAdjust="spacingAndGlyphs">0.92</text>
<text x="466.85" y="252.60" font-size="10.07" textLength="21.15" lengthAdjust="spacingAndGlyphs">0.91</text>
<text x="466.85" y="272.45" font-size="10.07" textLength="21.15" lengthAdjust="spacingAndGlyphs">0.90</text>
<text x="466.85" y="292.30" font-size="10.07" textLength="21.15" lengthAdjust="spacingAndGlyphs">0.89</text>
<text x="466.85" y="312.15" font-size="10.07" textLength="21.15" lengthAdjust="spacingAndGlyphs">0.88</text>
<text x="466.85" y="332.00" font-size="10.07" textLength="21.15" lengthAdjust="spacingAndGlyphs">0.87</text>
<text x="466.85" y="351.85" font-size="10.07" textLength="21.15" lengthAdjust="spacingAndGlyphs">0.86</text>
<text x="466.85" y="371.70" font-size="10.07" textLength="21.15" lengthAdjust="spacingAndGlyphs">0.85</text>
<rect x="495.0" y="228.3" width="188.7" height="158.0" fill="none" stroke="#000" stroke-width="0.76"/>
<text x="575.09" y="222.65" font-size="12.31" textLength="28.52" lengthAdjust="spacingAndGlyphs">APoP</text>
<text x="574.80" y="413.60" font-size="10.07" textLength="29.10" lengthAdjust="spacingAndGlyphs">Epoch</text>
<rect x="576.75" y="350.55" width="102.20" height="31.00" rx="1.9" ry="1.9" fill="#fff" fill-opacity="0.8" stroke="#ccc" stroke-opacity="0.8" stroke-width="0.95"/>
<path d="M580.55 358.10h19" stroke="#1f77b4" stroke-width="1.43" stroke-linecap="square"/>
<path d="M580.55 372.55h19" stroke="#ff7f0e" stroke-width="1.43" stroke-linecap="square"/>
<text x="607.95" y="361.95" font-size="10.07" textLength="67.20" lengthAdjust="spacingAndGlyphs">S_Net with KD</text>
<text x="607.95" y="376.45" font-size="10.07" textLength="52.24" lengthAdjust="spacingAndGlyphs">Only S_Net</text>
</svg></body></html>
